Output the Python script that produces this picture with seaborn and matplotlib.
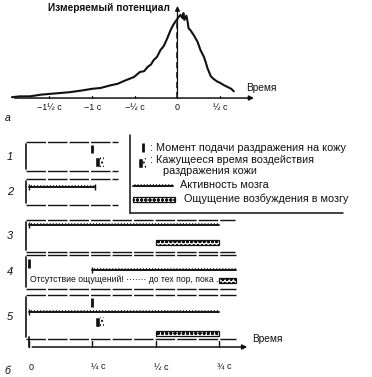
import numpy as np
import pandas as pd
import matplotlib
matplotlib.use("Agg")
import matplotlib.pyplot as plt
import matplotlib.patheffects as pe
import seaborn as sns

sns.set_theme(style="white")
plt.rcParams['font.family'] = ['Liberation Sans', 'DejaVu Sans']

# --- part a: measured potential (readiness potential) ---
pot_t = [-1.94, -1.85, -1.73, -1.6, -1.49, -1.37, -1.26, -1.12, -1.0, -0.9,
         -0.79, -0.7, -0.61, -0.51, -0.44, -0.39, -0.35, -0.31, -0.28, -0.24,
         -0.2, -0.16, -0.12, -0.08, -0.05, -0.01, 0.01, 0.035, 0.06, 0.07,
         0.08, 0.105, 0.12, 0.13, 0.15, 0.19, 0.235, 0.27, 0.31, 0.33,
         0.35, 0.39, 0.42, 0.46, 0.5, 0.55, 0.59, 0.63, 0.66]
pot_v = [0.01, 0.02, 0.02, 0.04, 0.05, 0.06, 0.07, 0.09, 0.11, 0.12,
         0.15, 0.17, 0.21, 0.25, 0.31, 0.32, 0.37, 0.40, 0.45, 0.49,
         0.57, 0.62, 0.71, 0.81, 0.87, 0.93, 0.96, 0.99, 0.95, 1.01,
         0.93, 0.98, 0.90, 0.83, 0.81, 0.75, 0.67, 0.57, 0.49, 0.43,
         0.36, 0.26, 0.23, 0.20, 0.18, 0.15, 0.13, 0.11, 0.08]
a_ticks = [-1.5, -1.0, -0.5, 0.0, 0.5]
a_labels = ["−1½ с", "−1 с", "−½ с", "0", "½ с"]

# --- part b: timing of stimulus, brain activity and sensation (seconds) ---
rows = ["1", "2", "3", "4", "5"]
stim_time = [0.25, None, None, 0.0, 0.25]
felt_time = [0.26, None, None, None, 0.26]
act_start = [None, 0.0, 0.0, 0.25, 0.0]
act_end = [None, 0.26, 0.75, 0.82, 0.75]
sens_start = [None, None, 0.5, 0.75, 0.5]
sens_end = [None, None, 0.75, 0.82, 0.75]
panel_end = [0.35, 0.35, 0.815, 0.82, 0.82]
b_ticks = [0.0, 0.25, 0.5, 0.75]
b_labels = ["0", "¼ с", "½ с", "¾ с"]

# layout of rows (pixel rows in part b)
row_top = [142, 179, 220, 255, 295]
row_bot = [171, 205, 252, 289, 339]
stim_y = [(145, 153), None, None, (259, 268), (298, 307)]
felt_y = [162, None, None, None, 322]
act_y = [None, 187, 225, 270, 312]
sens_y = [None, None, 242, 280, 333]

INK = "#111111"
W, H = 372, 377
fig = plt.figure(figsize=(W / 100, H / 100), dpi=100)
fig.patch.set_facecolor("white")

# ---------------- part a ----------------
ax_a = fig.add_axes([0, 1 - 125 / H, 1, 125 / H])
ax_a.set_xlim(-2.08, 2.28)
ax_a.set_ylim(-0.321, 1.167)
ax_a.axis("off")

df = pd.DataFrame({"t": pot_t, "v": pot_v})
sns.lineplot(data=df, x="t", y="v", ax=ax_a, color=INK, lw=1.5)
ax_a.annotate("", xy=(0.93, 0), xytext=(-1.94, 0),
              arrowprops=dict(arrowstyle="-|>", color=INK, lw=1.1, mutation_scale=7))
ax_a.annotate("", xy=(0, 1.13), xytext=(0, 0),
              arrowprops=dict(arrowstyle="-|>", color=INK, lw=0.9, mutation_scale=7))
ax_a.plot([0, 0], [0, 0.93], color=INK, lw=1.1, ls=(0, (4, 2.5)))
for t, lab in zip(a_ticks, a_labels):
    ax_a.plot([t, t], [0, 0.03], color=INK, lw=0.9)
    ax_a.text(t, -0.11, lab, ha="center", va="center", fontsize=6.5, color=INK)
ax_a.text(-0.09, 1.07, "Измеряемый потенциал", ha="right", va="center",
          fontsize=7.3, fontweight="bold", color=INK)
ax_a.text(0.8, 0.12, "Время", ha="left", va="center", fontsize=7.3, color=INK)
ax_a.text(-2.03, -0.24, "а", ha="left", va="center", fontsize=7.5,
          style="italic", color=INK)

# ---------------- part b ----------------
ax_b = fig.add_axes([0, 0, 1, 252 / H])
ax_b.set_xlim(-0.117, 1.359)
ax_b.set_ylim(377, 125)
ax_b.axis("off")

tick_fx = [pe.withTickedStroke(angle=70, spacing=2.2, length=0.5, linewidth=0.8),
           pe.Normal()]
left_x = -0.014
for i, r in enumerate(rows):
    top, bot = row_top[i], row_bot[i]
    ax_b.plot([left_x, left_x], [top + 2, bot - 2], color=INK, lw=1.2)
    ax_b.plot([left_x, panel_end[i]], [top, top], color=INK, lw=1.0, ls=(0, (14, 1.5)))
    ax_b.plot([left_x, panel_end[i]], [bot, bot], color=INK, lw=1.0, ls=(0, (14, 1.5)))
    ax_b.text(-0.078, (top + bot) / 2, r, ha="center", va="center",
              fontsize=8, style="italic", color=INK)
    if stim_time[i] is not None:
        y0, y1 = stim_y[i]
        ax_b.vlines(stim_time[i], y0, y1, color=INK, lw=2.0)
    if felt_time[i] is not None:
        ax_b.barh(felt_y[i], 0.02, left=felt_time[i], height=10, color=INK)
        ax_b.barh(felt_y[i], 0.014, left=felt_time[i] + 0.02, height=10,
                  color="white", edgecolor=INK, hatch="....", lw=0)
    if act_start[i] is not None:
        y = act_y[i]
        ax_b.plot([act_start[i], act_end[i]], [y, y], color=INK, lw=1.1,
                  path_effects=tick_fx)
        ax_b.vlines(act_start[i], y - 3, y + 3, color=INK, lw=1.0)
        if i == 1:
            ax_b.vlines(act_end[i], y - 3, y + 3, color=INK, lw=1.0)
    if sens_start[i] is not None:
        ax_b.barh(sens_y[i], sens_end[i] - sens_start[i], left=sens_start[i],
                  height=5, color="white", edgecolor=INK, hatch="oooo", lw=0.9)

ax_b.text(0.002, 280, "Отсутствие ощущений! ······· до тех пор, пока ...",
          ha="left", va="center", fontsize=6.2, color=INK)

# time axis
ax_b.annotate("", xy=(0.875, 347), xytext=(0, 347),
              arrowprops=dict(arrowstyle="-|>", color=INK, lw=1.1, mutation_scale=7))
ax_b.plot([0, 0], [337, 347], color=INK, lw=1.2)
for t, lab in zip(b_ticks, b_labels):
    ax_b.plot([t, t], [341, 347], color=INK, lw=1.0)
    ax_b.text(t - 0.005, 367, lab, ha="left", va="center", fontsize=6.5, color=INK)
ax_b.text(0.883, 339, "Время", ha="left", va="center", fontsize=7.3, color=INK)
ax_b.text(-0.1, 371, "б", ha="left", va="center", fontsize=7.5,
          style="italic", color=INK)

# ---------------- legend box ----------------
ax_l = fig.add_axes([0, 0, 1, 1])
ax_l.set_xlim(0, W)
ax_l.set_ylim(H, 0)
ax_l.axis("off")
ax_l.patch.set_alpha(0)
ax_l.plot([130, 130], [135, 213], color=INK, lw=1.1)
ax_l.plot([130, 343], [213, 213], color=INK, lw=1.1)
ax_l.vlines(143, 143, 152, color=INK, lw=2.0)
ax_l.text(150, 148, ": Момент подачи раздражения на кожу", ha="left",
          va="center", fontsize=7.8, color=INK)
ax_l.barh(163, 5, left=138, height=10, color=INK)
ax_l.barh(163, 3, left=143, height=10, color="white", edgecolor=INK,
          hatch="....", lw=0)
ax_l.text(150, 160, ": Кажущееся время воздействия", ha="left",
          va="center", fontsize=7.8, color=INK)
ax_l.text(163, 171, "раздражения кожи", ha="left", va="center",
          fontsize=7.8, color=INK)
ax_l.plot([133, 173], [186, 186], color=INK, lw=1.1, path_effects=tick_fx)
ax_l.text(180, 185, "Активность мозга", ha="left", va="center",
          fontsize=7.8, color=INK)
ax_l.barh(199, 42, left=133, height=5, color="white", edgecolor=INK,
          hatch="oooo", lw=0.9)
ax_l.text(184, 199, "Ощущение возбуждения в мозгу", ha="left",
          va="center", fontsize=7.8, color=INK)

fig.savefig("out.png", dpi=100, facecolor="white")
